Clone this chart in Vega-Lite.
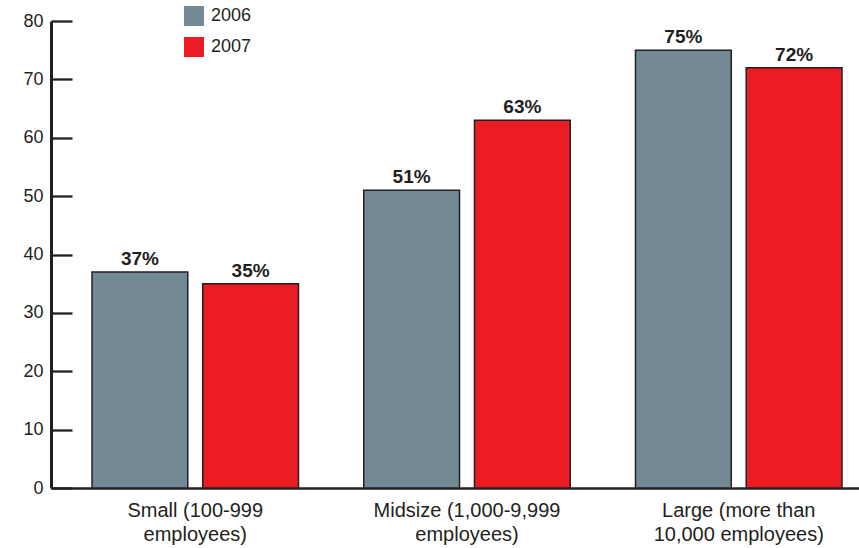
{
  "$schema": "https://vega.github.io/schema/vega-lite/v6.json",
  "width": 808,
  "height": 467,
  "autosize": {"type": "none"},
  "padding": {"left": 51, "top": 21, "right": 0, "bottom": 60},
  "background": "white",
  "config": {
    "view": {"stroke": null},
    "font": "Liberation Sans"
  },
  "data": {
    "values": [
      {"size": "Small (100-999\nemployees)", "year": "2006", "value": 37},
      {"size": "Small (100-999\nemployees)", "year": "2007", "value": 35},
      {"size": "Midsize (1,000-9,999\nemployees)", "year": "2006", "value": 51},
      {"size": "Midsize (1,000-9,999\nemployees)", "year": "2007", "value": 63},
      {"size": "Large (more than\n10,000 employees)", "year": "2006", "value": 75},
      {"size": "Large (more than\n10,000 employees)", "year": "2007", "value": 72}
    ]
  },
  "transform": [{"calculate": "datum.value + '%'", "as": "label"}],
  "encoding": {
    "x": {
      "field": "size",
      "type": "nominal",
      "sort": null,
      "scale": {"range": [0, 832], "paddingInner": 0.2401, "paddingOuter": 0.1509},
      "axis": {
        "title": null,
        "labelAngle": 0,
        "labelExpr": "split(datum.label, '\\n')",
        "labelFont": "Liberation Sans",
        "labelFontSize": 20,
        "labelLineHeight": 24,
        "labelLimit": 400,
        "labelColor": "#231f20",
        "labelPadding": 12,
        "ticks": false,
        "domainColor": "#231f20",
        "domainWidth": 2.5
      }
    },
    "xOffset": {
      "field": "year",
      "type": "nominal",
      "scale": {"paddingInner": 0.135, "paddingOuter": 0}
    },
    "y": {
      "field": "value",
      "type": "quantitative",
      "scale": {"domain": [0, 80], "nice": false},
      "axis": {
        "title": null,
        "values": [0, 10, 20, 30, 40, 50, 60, 70, 80],
        "grid": false,
        "labelFont": "Liberation Sans",
        "labelFontSize": 18,
        "labelColor": "#231f20",
        "tickSize": -21,
        "tickWidth": 2.3,
        "tickColor": "#231f20",
        "labelPadding": 29,
        "domainColor": "#231f20",
        "domainWidth": 3
      }
    }
  },
  "layer": [
    {
      "mark": {"type": "bar", "stroke": "#231f20", "strokeWidth": 1.5},
      "encoding": {
        "color": {
          "field": "year",
          "type": "nominal",
          "scale": {"domain": ["2006", "2007"], "range": ["#738a94", "#ec1c24"]},
          "legend": {
            "title": null,
            "orient": "none",
            "legendX": 133,
            "legendY": -15,
            "symbolType": "square",
            "symbolSize": 400,
            "symbolStrokeWidth": 0,
            "symbolOpacity": 1,
            "labelFont": "Liberation Sans",
            "labelFontSize": 18,
            "labelColor": "#231f20",
            "labelOffset": 7,
            "rowPadding": 11
          }
        }
      }
    },
    {
      "mark": {
        "type": "text",
        "dy": -7,
        "baseline": "alphabetic",
        "fontWeight": "bold",
        "fontSize": 19,
        "color": "#231f20"
      },
      "encoding": {"text": {"field": "label"}}
    }
  ]
}
